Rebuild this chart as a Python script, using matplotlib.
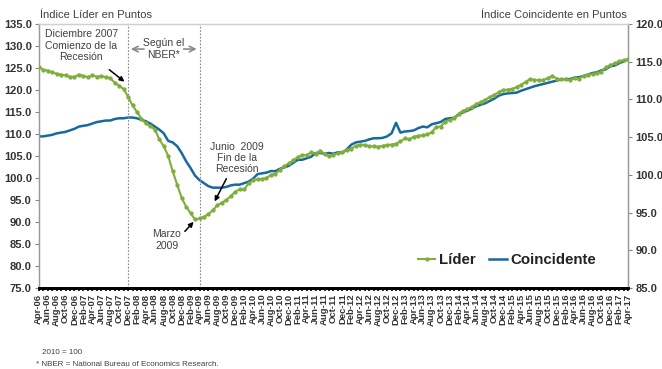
import pandas as pd
import matplotlib.pyplot as plt
import numpy as np

plt.rcParams["font.family"] = ["Liberation Sans", "DejaVu Sans"]

# ======================================================
# DATOS
# ======================================================
MESES = pd.date_range("2006-04-01", "2017-04-01", freq="MS").strftime("%b-%y").tolist()

LIDER = [
    125.3, 124.6, 124.4, 124.0, 123.7, 123.5, 123.3, 123.0, 123.0, 123.5,
    123.2, 122.9, 123.3, 123.0, 123.2, 122.9, 122.7, 121.7, 121.0, 120.2,
    118.5, 116.5, 115.0, 113.5, 112.4, 111.8, 111.0, 108.8, 107.2, 105.0,
    101.5, 98.5, 95.5, 93.5, 92.0, 90.6, 90.8, 91.2, 91.8, 92.7,
    93.8, 94.4, 95.0, 95.9, 96.9, 97.4, 97.4, 98.8, 99.5, 99.7,
    99.8, 100.0, 100.7, 101.0, 101.8, 102.7, 103.3, 104.0, 104.8, 105.2,
    105.2, 105.8, 105.5, 106.2, 105.5, 104.9, 105.3, 105.6, 105.8, 106.4,
    106.7, 107.3, 107.6, 107.5, 107.2, 107.2, 107.1, 107.3, 107.5, 107.6,
    107.8, 108.3, 109.0, 108.8, 109.4, 109.6, 109.7, 109.9, 110.4, 111.6,
    111.7, 112.8, 113.2, 113.6, 114.6, 115.3, 115.6, 116.2, 116.8, 117.3,
    117.8, 118.4, 118.9, 119.5, 120.0, 120.1, 120.2, 120.7, 121.2, 121.8,
    122.5, 122.3, 122.2, 122.3, 122.7, 123.2, 122.6, 122.4, 122.5, 122.2,
    122.8, 122.6, 123.2, 123.5, 123.6, 123.8, 124.2, 125.2, 125.6, 126.1,
    126.5, 126.8, 127.0,
]

COINCIDENTE = [
    105.1, 105.1, 105.2, 105.3, 105.5, 105.6, 105.7, 105.9, 106.1, 106.4,
    106.5, 106.6, 106.8, 107.0, 107.1, 107.2, 107.2, 107.4, 107.5, 107.5,
    107.6, 107.6, 107.5, 107.3, 107.1, 106.8, 106.4, 106.0, 105.5, 104.5,
    104.3, 103.8, 102.9, 101.8, 100.9, 99.9, 99.3, 98.9, 98.5, 98.3,
    98.3, 98.3, 98.4, 98.6, 98.7, 98.7, 98.9, 99.1, 99.5, 100.1,
    100.2, 100.3, 100.5, 100.5, 100.8, 101.0, 101.2, 101.6, 102.0, 102.0,
    102.2, 102.4, 102.9, 102.9, 102.8, 102.9, 102.8, 103.0, 102.9, 103.4,
    104.0, 104.3, 104.4, 104.5, 104.7, 104.85, 104.85, 104.9, 105.1, 105.5,
    106.9, 105.6, 105.75, 105.8, 105.9, 106.2, 106.4, 106.3, 106.7, 106.85,
    107.0, 107.4, 107.5, 107.55, 108.0, 108.3, 108.5, 108.8, 109.1, 109.3,
    109.5, 109.8, 110.1, 110.5, 110.7, 110.8, 110.85, 110.9, 111.15, 111.35,
    111.55, 111.75, 111.9, 112.05, 112.2, 112.35, 112.5, 112.65, 112.7, 112.7,
    112.9, 112.95, 113.1, 113.3, 113.5, 113.6, 113.85, 114.0, 114.4, 114.5,
    114.8, 115.05, 115.3,
]

# ======================================================
# ESTILO
# ======================================================
VERDE = "#7fae3c"
AZUL = "#17699f"
GRIS_TXT = "#404040"

x = np.arange(len(MESES))
i_dic07 = MESES.index("Dec-07")
i_abr09 = MESES.index("Apr-09")
i_mar09 = MESES.index("Mar-09")

fig = plt.figure(figsize=(6.62, 3.69), dpi=100)
ax = fig.add_axes([0.0585, 0.2195, 0.8905, 0.7155])
ax2 = ax.twinx()

# Coincidente en el eje derecho
ax2.plot(x, COINCIDENTE, color=AZUL, linewidth=1.8, zorder=2)
# Líder en el eje izquierdo (encima)
ax.set_zorder(ax2.get_zorder() + 1)
ax.patch.set_visible(False)
ax.plot(x, LIDER, color=VERDE, linewidth=1.5, marker="o", markersize=3.1,
        markeredgewidth=0, zorder=3)

ax.set_xlim(0, len(MESES) - 1)
ax.set_ylim(75, 135)
ax2.set_ylim(85, 120)
ax.set_yticks(np.arange(75, 136, 5))
ax2.set_yticks(np.arange(85, 121, 5))
ax.set_yticklabels([f"{v:.1f}" for v in np.arange(75, 136, 5)])
ax2.set_yticklabels([f"{v:.1f}" for v in np.arange(85, 121, 5)])

ax.set_xticks(x, minor=True)
ax.set_xticks(x[::2])
ax.set_xticklabels(MESES[::2], rotation=90, fontsize=6.8, fontweight="bold",
                   color="#333333")
ax.tick_params(axis="x", which="both", length=2.5, width=1.2, color="black", pad=1.5)
ax.tick_params(axis="y", labelsize=8, length=3, color="#888888", pad=2)
ax2.tick_params(axis="y", labelsize=8, length=3, color="#888888", pad=2)
for lab in ax.get_yticklabels() + ax2.get_yticklabels():
    lab.set_fontweight("bold")
    lab.set_color("#333333")

for a in (ax, ax2):
    for s in ("left", "right", "top"):
        a.spines[s].set_color("#999999")
        a.spines[s].set_linewidth(0.9)
    a.spines["top"].set_color("#d0d0d0")
    a.spines["bottom"].set_color("black")
    a.spines["bottom"].set_linewidth(2)

# Recesión según NBER
for xi in (i_dic07, i_abr09):
    ax.axvline(xi, color="#888888", linestyle=(0, (1.5, 1.5)), linewidth=0.8, zorder=1)

ax.annotate("", xy=(i_dic07, 129.3), xytext=(i_dic07 + 4.2, 129.3),
            arrowprops=dict(arrowstyle="->", color="#8a8a8a", lw=1.2))
ax.annotate("", xy=(i_abr09, 129.3), xytext=(i_abr09 - 4.2, 129.3),
            arrowprops=dict(arrowstyle="->", color="#8a8a8a", lw=1.2))
ax.text((i_dic07 + i_abr09) / 2, 129.3, "Según el\nNBER*", ha="center",
        va="center", fontsize=7.5, color=GRIS_TXT, linespacing=1.15)

ax.text(9.5, 130.1, "Diciembre 2007\nComienzo de la\nRecesión", ha="center",
        va="center", fontsize=7.5, color=GRIS_TXT, linespacing=1.15)
ax.annotate("", xy=(i_dic07 - 0.3, 121.5), xytext=(15.3, 125.0),
            arrowprops=dict(arrowstyle="-|>", color="black", lw=1.1,
                            mutation_scale=7))

ax.text(44.3, 104.6, "Junio  2009\nFin de la\nRecesión", ha="center",
        va="center", fontsize=7.5, color=GRIS_TXT, linespacing=1.15)
ax.annotate("", xy=(39.1, 94.1), xytext=(42.3, 100.4),
            arrowprops=dict(arrowstyle="-|>", color="black", lw=1.1,
                            mutation_scale=7))

ax.text(28.7, 85.9, "Marzo\n2009", ha="center", va="center", fontsize=7.5,
        color=GRIS_TXT, linespacing=1.15)
ax.annotate("", xy=(i_mar09 + 0.1, 90.5), xytext=(32.3, 87.4),
            arrowprops=dict(arrowstyle="-|>", color="black", lw=1.1,
                            mutation_scale=7))

# Títulos de los ejes
fig.text(40 / 662, 1 - 15 / 369, "Índice Líder en Puntos", ha="left",
         va="center", fontsize=8, color=GRIS_TXT)
fig.text(627 / 662, 1 - 15 / 369, "Índice Coincidente en Puntos", ha="right",
         va="center", fontsize=8, color=GRIS_TXT)

# Leyenda
h1 = plt.Line2D([], [], color=VERDE, linewidth=1.5, marker="o", markersize=3.1,
                markeredgewidth=0)
h2 = plt.Line2D([], [], color=AZUL, linewidth=1.8)
leg = fig.legend([h1, h2], ["Líder", "Coincidente"], loc="center",
                 bbox_to_anchor=(507 / 662, 1 - 260 / 369), ncol=2, frameon=False,
                 handlelength=1.15, handletextpad=0.25, columnspacing=0.9,
                 prop={"weight": "bold", "size": 10.8})
for t in leg.get_texts():
    t.set_color("#222222")

# Notas
fig.text(42 / 662, 1 - 353 / 369, "2010 = 100", ha="left", va="center",
         fontsize=5.8, color=GRIS_TXT)
fig.text(36 / 662, 1 - 364 / 369, "* NBER = National Bureau of Economics Research.",
         ha="left", va="center", fontsize=5.8, color=GRIS_TXT)

fig.savefig("out.png", dpi=100)
